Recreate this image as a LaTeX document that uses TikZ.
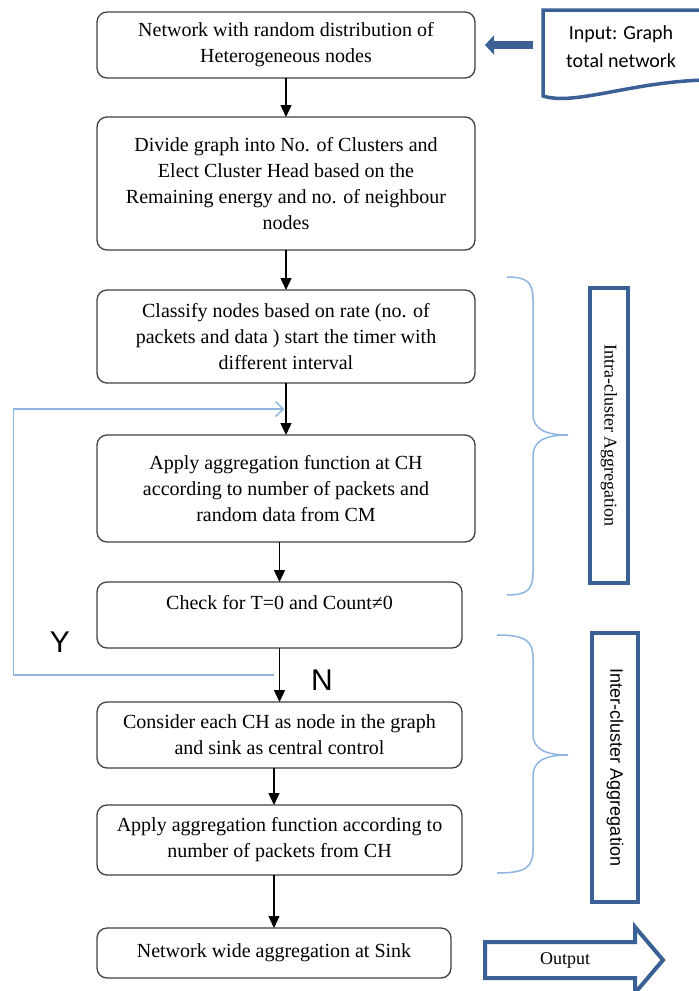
\documentclass[tikz,border=0pt]{standalone}
\usepackage{fontspec}
\setmainfont{Liberation Serif}
\newfontfamily\labelfont{Liberation Sans}
\newfontfamily\calibfont{Carlito}
\usetikzlibrary{positioning,arrows.meta,calc}
\definecolor{darkblue}{HTML}{3B6095}
\definecolor{lightblue}{HTML}{8FB4E0}

\begin{document}
\begin{tikzpicture}[x=1pt,y=-1pt,>={Triangle[length=12pt,width=11pt]},
  flow box/.style={draw=black!75,line width=1.3pt,rounded corners=10pt,
    minimum width=378pt,align=center,inner sep=4pt,outer sep=0pt,
    font=\fontsize{20}{26}\selectfont},
  side box/.style={draw=darkblue,line width=4pt,inner sep=0pt,rotate=-90},
  flow arrow/.style={->,line width=1.4pt,black},
  loop line/.style={draw=lightblue,line width=1.5pt,
    -{Straight Barb[length=8pt,width=15pt]},shorten >=1.5pt},
  brace line/.style={draw=lightblue,line width=1.5pt},
  yn label/.style={font=\labelfont\fontsize{30}{30}\selectfont}]
  \useasboundingbox (0,0) rectangle (699,991);

  % flow chart
  \node[flow box,minimum height=66pt] (box1) at (286,45)
    {Network with random distribution of\\Heterogeneous nodes};
  \node[flow box,minimum height=133pt,below=39pt of box1] (box2)
    {Divide graph into No. of Clusters and\\Elect Cluster Head based on the\\
     Remaining energy and no. of neighbour\\nodes};
  \node[flow box,minimum height=93pt,below=40pt of box2] (box3)
    {Classify nodes based on rate (no. of\\packets and data ) start the timer with\\
     different interval};
  \node[flow box,minimum height=107pt,below=52pt of box3] (box4)
    {Apply aggregation function at CH\\according to number of packets and\\
     random data from CM};
  \node[flow box,minimum width=365pt,minimum height=66pt,
    below=40pt of box4.south west,anchor=north west] (box5)
    {Check for T=0 and Count≠0\\\mbox{}};
  \node[flow box,minimum width=365pt,minimum height=66pt,below=54pt of box5] (box6)
    {Consider each CH as node in the graph\\and sink as central control};
  \node[flow box,minimum width=365pt,minimum height=70pt,below=37pt of box6] (box7)
    {Apply aggregation function according to\\number of packets from CH};
  \node[flow box,minimum width=354pt,minimum height=50pt,
    below=53pt of box7.south west,anchor=north west] (box8)
    {Network wide aggregation at Sink};

  \draw[flow arrow] (box1) -- (box2);
  \draw[flow arrow] (box2) -- (box3);
  \draw[flow arrow] (box3) -- (box4);
  \draw[flow arrow] (box4.south -| box5.north) -- (box5.north);
  \draw[flow arrow] (box5) -- (box6);
  \draw[flow arrow] (box6.south -| box8.north) -- (box7.north -| box8.north);
  \draw[flow arrow] (box7.south -| box8.north) -- (box8.north);

  % loop back
  \coordinate (loopstart) at ($(box5.south)!0.5!(box6.north)+(-6,0)$);
  \coordinate (loopend) at ($(box3.south)!0.5!(box4.north)$);
  \draw[loop line] (loopstart) -- ++(-260,0) |- (loopend);
  \node[yn label] (ylabel) at (60,642) {Y};
  \node[yn label] (nlabel) at (322,680) {N};

  % input
  \node[minimum width=156pt,minimum height=86pt,align=center,
    font=\calibfont\fontsize{20}{28}\selectfont] (input) at (621,47)
    {Input: Graph\\total network};
  \draw[darkblue,line width=3.5pt] (705,10) -- (543,10) -- (543,96)
    .. controls (575,106) and (630,82) .. (705,80);
  \draw[darkblue,line width=8pt,-{Triangle[length=9pt,width=19pt]},
    shorten <=10pt,shorten >=10pt] (input.west |- box1.east) -- (box1.east);

  % braces
  \draw[brace line] (507,277) .. controls (528,277) and (533,283) .. (533,300)
    -- (533,414) .. controls (533,429) and (545,435) .. (568,435)
    .. controls (545,435) and (533,441) .. (533,456)
    -- (533,572) .. controls (533,589) and (528,595) .. (507,595);
  \draw[brace line] (497,635) .. controls (526,635) and (533,641) .. (533,658)
    -- (533,734) .. controls (533,749) and (545,755) .. (568,755)
    .. controls (545,755) and (533,761) .. (533,776)
    -- (533,850) .. controls (533,867) and (526,873) .. (497,873);

  \node[side box,minimum width=295pt,minimum height=38pt,
    font=\fontsize{18}{18}\selectfont] (intra) at (609,435.5)
    {Intra-cluster Aggregation};
  \node[side box,minimum width=269pt,minimum height=46pt,
    font=\labelfont\fontsize{18}{18}\selectfont] (inter) at (615,767.5)
    {Inter-cluster Aggregation};

  % output
  \draw[darkblue,line width=4pt,miter limit=20] (485,942) -- (635,942) -- (635,927)
    -- (663,960) -- (635,993) -- (635,978) -- (485,978) -- cycle;
  \node[font=\fontsize{18}{18}\selectfont] (output) at (565,960) {Output};
\end{tikzpicture}
\end{document}
